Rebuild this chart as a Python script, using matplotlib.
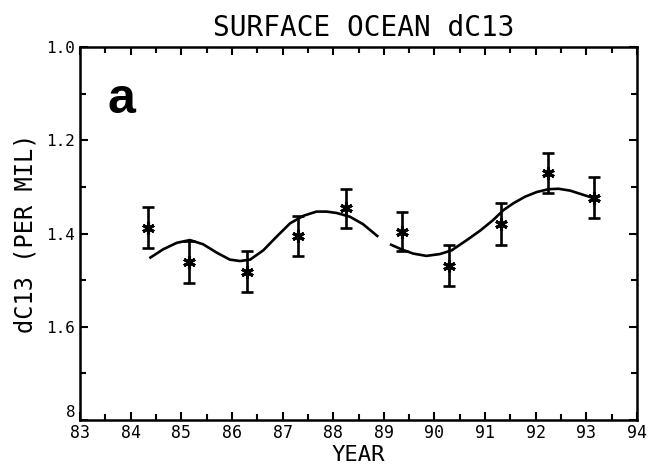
"""Surface ocean dC13 time series, panel a (scanned figure recreation)."""
import matplotlib

matplotlib.use("Agg")
import matplotlib.pyplot as plt  # noqa: E402
from matplotlib.ticker import MultipleLocator, FixedLocator  # noqa: E402

plt.rcParams["font.family"] = ["DejaVu Sans Mono", "DejaVu Sans"]

# measured samples with 1-sigma bars
obs_year = [84.34, 85.15, 86.30, 87.30, 88.25, 89.35, 90.29, 91.31, 92.24, 93.15]
obs_d13c = [1.388, 1.461, 1.482, 1.405, 1.346, 1.396, 1.469, 1.380, 1.271, 1.323]
obs_err = [0.044, 0.046, 0.044, 0.043, 0.042, 0.042, 0.044, 0.045, 0.043, 0.044]

# fitted seasonal curve, first stretch
fit1_year = [84.37, 84.64, 84.91, 85.17, 85.43, 85.70, 85.96, 86.16, 86.36, 86.62,
             86.88, 87.15, 87.41, 87.67, 87.87, 88.07, 88.33, 88.59, 88.89]
fit1_d13c = [1.453, 1.434, 1.420, 1.414, 1.423, 1.441, 1.456, 1.459, 1.456, 1.436,
             1.407, 1.378, 1.362, 1.353, 1.353, 1.356, 1.364, 1.380, 1.407]

# second stretch
fit2_year = [89.12, 89.35, 89.58, 89.84, 90.11, 90.34, 90.64, 90.90, 91.16, 91.36,
             91.56, 91.79, 92.02, 92.25, 92.45, 92.68, 92.91, 93.17]
fit2_d13c = [1.423, 1.434, 1.443, 1.448, 1.444, 1.436, 1.414, 1.394, 1.371, 1.350,
             1.335, 1.321, 1.311, 1.305, 1.304, 1.308, 1.316, 1.325]

year_ticks = list(range(83, 95))
y_ticks = [1.0, 1.2, 1.4, 1.6, 1.8]
y_tick_labels = ["1.0", "1.2", "1.4", "1.6", ""]
bottom_label = "8"  # only the last digit of 1.8 survives in the original

fig = plt.figure(figsize=(6.58, 4.73), dpi=100)
ax = fig.add_axes([0.1216, 0.112, 0.8465, 0.7886])

ax.plot(fit1_year, fit1_d13c, color="black", lw=1.9, solid_capstyle="butt")
ax.plot(fit2_year, fit2_d13c, color="black", lw=1.9, solid_capstyle="butt")

ax.errorbar(obs_year, obs_d13c, yerr=obs_err, fmt="none", ecolor="black",
            elinewidth=1.9, capsize=4, capthick=1.9)
ax.plot(obs_year, obs_d13c, ls="none", marker=(6, 2, 0), ms=9, mew=2.2,
        color="black")

ax.set_xlim(83, 94)
ax.set_ylim(1.8, 1.0)  # inverted: lighter values at the top

ax.xaxis.set_major_locator(FixedLocator(year_ticks))
ax.xaxis.set_minor_locator(MultipleLocator(0.5))
ax.set_xticklabels([str(y) for y in year_ticks])
ax.yaxis.set_major_locator(FixedLocator(y_ticks))
ax.yaxis.set_minor_locator(MultipleLocator(0.1))
ax.set_yticklabels(y_tick_labels)

ax.tick_params(which="both", direction="in", top=True, right=True, width=1.5,
               colors="black")
ax.tick_params(which="major", length=6)
ax.tick_params(which="minor", length=4)
ax.tick_params(axis="x", labelsize=12, pad=3)
ax.tick_params(axis="y", labelsize=11.5, pad=4)
for sp in ax.spines.values():
    sp.set_linewidth(1.8)

ax.annotate(bottom_label, xy=(0, 0), xycoords="axes fraction",
            xytext=(-3, 0), textcoords="offset points",
            ha="right", va="bottom", fontsize=11.5)

ax.set_xlabel("YEAR", fontsize=16, labelpad=2)
ax.set_ylabel("dC13 (PER MIL)", fontsize=17, labelpad=6)
ax.set_title("SURFACE OCEAN dC13", fontsize=20, pad=8, x=0.51)

ax.text(0.05, 0.92, "a", transform=ax.transAxes, fontsize=36,
        fontweight="bold", family="Liberation Sans", va="top", ha="left")

fig.savefig("out.png", dpi=100)
